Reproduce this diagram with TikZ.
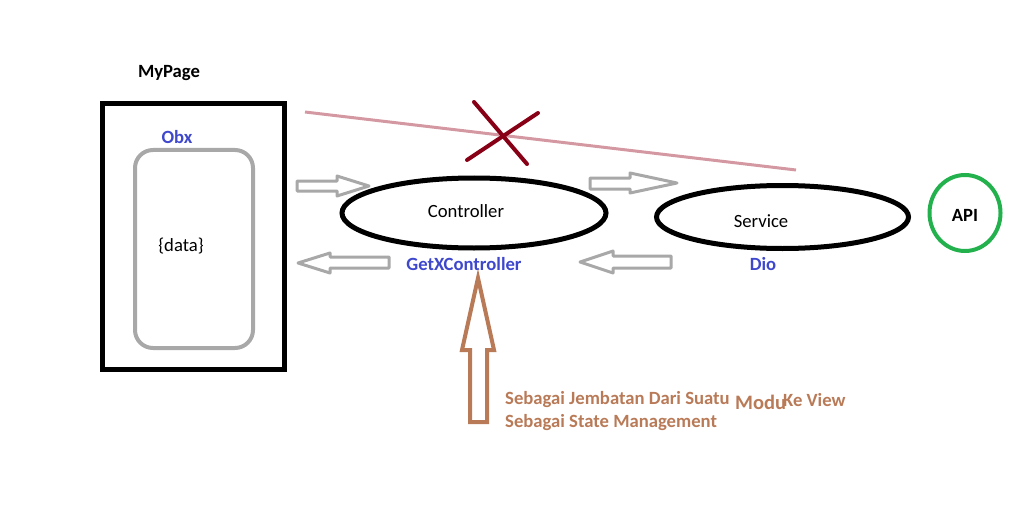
\documentclass[tikz,border=0pt]{standalone}
\usepackage{fontspec}
\setmainfont{Carlito}
\usetikzlibrary{positioning,shapes.geometric}
\definecolor{paintblue}{RGB}{63,72,204}
\definecolor{paintbrown}{RGB}{185,122,87}
\definecolor{paintgreen}{RGB}{34,177,76}
\definecolor{paintred}{RGB}{136,0,21}
\definecolor{paintrose}{RGB}{212,152,162}
\definecolor{paintgray}{RGB}{168,168,168}
\begin{document}
\begin{tikzpicture}[x=1pt,y=-1pt,
    txt/.style={font=\fontsize{18.67}{22}\selectfont, inner sep=0pt},
    bold/.style={txt, font=\fontsize{18.67}{22}\selectfont\bfseries},
    oval/.style={ellipse, draw, line width=5pt, inner sep=0pt},
    grayarrow/.style={draw=paintgray, line width=3pt, line join=round}]
  \useasboundingbox (0,0) rectangle (1024,505);
                      % page with observable box
                      \draw[line width=5pt] (102.5,103.5) rectangle (284.5,369.5);
                      \draw[paintgray, line width=4pt, rounded corners=18pt] (135,150) rectangle (253,348);
                      \node[bold] (mypage) at (169,73) {MyPage};
                      \node[bold, paintblue] (obx) at (177,137) {Obx};
                      \node[txt] (data) at (181,246) {\{data\}};
                      % crossed direct line
                      \draw[paintrose, line width=3pt] (305,112) -- (796,170);
                      \draw[paintred, line width=4pt, line cap=round] (474,102) -- (527,164);
                      \draw[paintred, line width=4pt, line cap=round] (538,113) -- (467,160);
                      % controller, service, api
                      \node[oval, minimum width=264pt, minimum height=70pt] (ctrl) at (474,213) {};
                      \node[oval, minimum width=252pt, minimum height=63pt] (service) at (782.5,217) {};
                      \node[ellipse, draw=paintgreen, line width=4pt, minimum width=71pt, minimum height=76pt] (api) at (965,213) {};
                      \node[txt] (ctrllabel) at (466,211) {Controller};
                      \node[txt] (servicelabel) at (761,221) {Service};
                      \node[bold] (apilabel) at (965,215) {API};
                      \node[bold, paintblue] (getx) at (464,264) {GetXController};
                      \node[bold, paintblue] (dio) at (763,264) {Dio};
                      % gray block arrows
                      \draw[grayarrow] (297,181) -- (337,181) -- (337,176) -- (369,186) -- (337,196) -- (337,191) -- (297,191) -- cycle;
                      \draw[grayarrow] (389,257) -- (330,257) -- (330,253) -- (298,263) -- (330,273) -- (330,268) -- (389,268) -- cycle;
                      \draw[grayarrow] (590,178) -- (630,178) -- (630,173) -- (677,183) -- (630,193) -- (630,189) -- (590,189) -- cycle;
                      \draw[grayarrow] (671,256) -- (613,256) -- (613,251) -- (580,262) -- (613,273) -- (613,268) -- (671,268) -- cycle;
                      % brown arrow with notes
                      \draw[paintbrown, line width=4pt, line join=miter] (478,278) -- (494,350) -- (487,350) -- (487,422) -- (470,422) -- (470,350) -- (462,350) -- cycle;
                      \node[bold, paintbrown, anchor=west] (note1) at (505,400) {Sebagai Jembatan Dari Suatu};
                      \node[txt, paintbrown, anchor=west, font=\fontsize{20.5}{24}\selectfont\bfseries] (modul) at (735,402) {Modu};
                      \node[bold, paintbrown, anchor=west] (keview) at (783,400) {Ke View};
                      \node[bold, paintbrown, anchor=west] (note2) at (505,423) {Sebagai State Management};
                  \end{tikzpicture}
\end{document}
